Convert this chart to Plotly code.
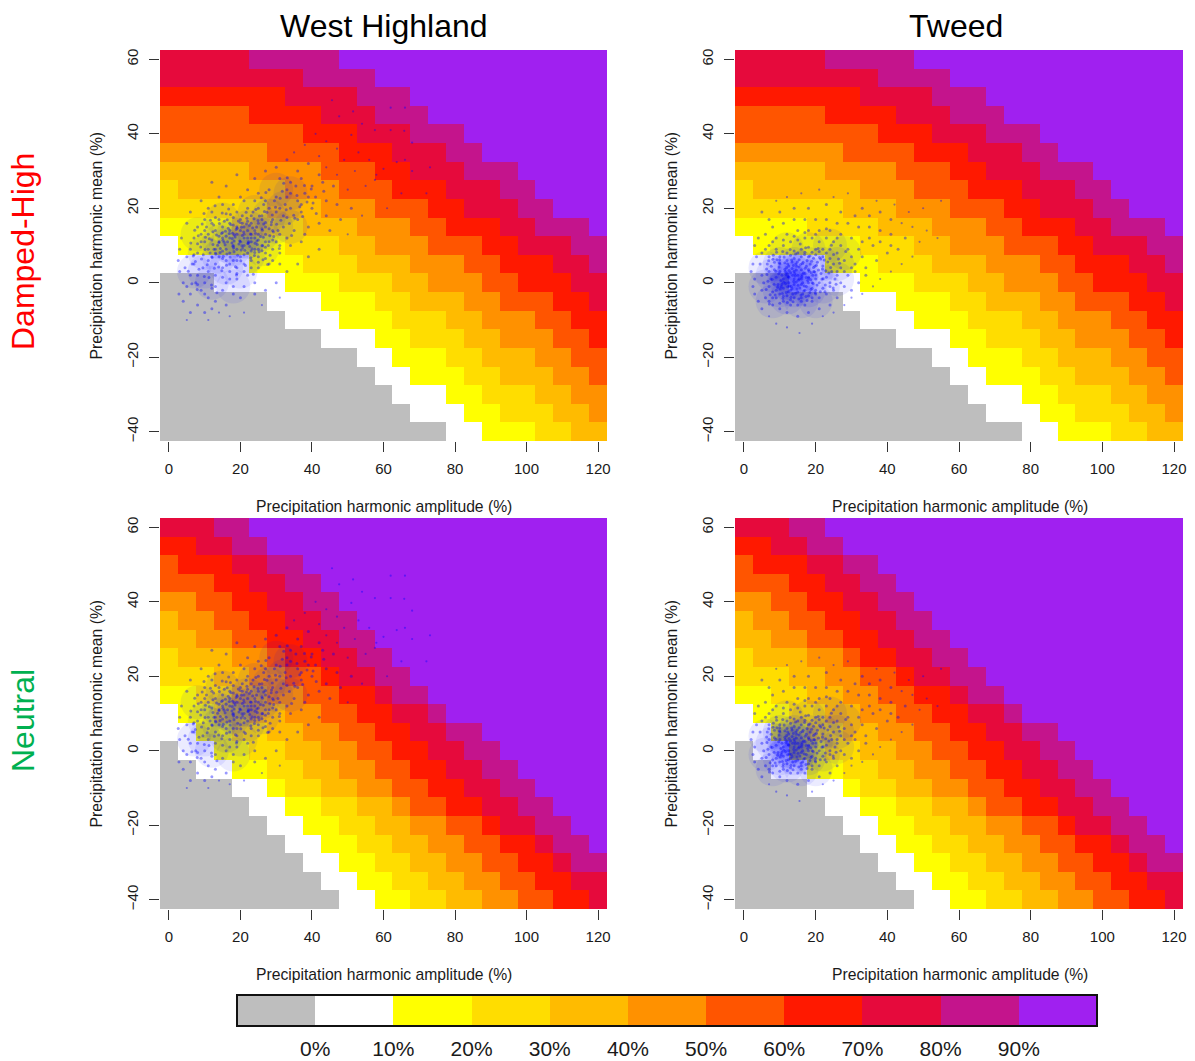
import plotly.graph_objects as go

W, H = 1195, 1061

amplitude = list(range(0, 121, 5))
mean_levels = list(range(60, -41, -5))
class_colors = ["#BEBEBE", "#FFFFFF", "#FFFF00", "#FFDD00", "#FFBB00", "#FF9100",
                "#FF5500", "#FF1900", "#E60A3C", "#C4148C", "#A020F0"]
legend_labels = ["0%", "10%", "20%", "30%", "40%", "50%", "60%", "70%", "80%", "90%"]

# each row (mean 60 .. -40): column index where classes 0..9 end; class 10 fills the rest
damped_ends = [
    [0,0,0,0,0,0,0,0,5,10],[0,0,0,0,0,0,0,0,8,12],[0,0,0,0,0,0,0,7,11,14],
    [0,0,0,0,0,0,5,9,12,15],[0,0,0,0,0,0,8,11,14,17],[0,0,0,0,0,6,10,13,16,18],
    [0,0,0,0,5,9,12,14,17,20],[0,0,0,1,7,10,13,16,19,21],[0,0,0,6,9,12,15,17,20,22],
    [0,0,4,8,11,14,16,19,21,24],[0,1,7,10,12,15,18,20,23,25],[0,5,8,11,14,17,19,22,24,25],
    [3,7,10,13,15,18,20,23,25,25],[6,9,12,14,17,19,22,24,25,25],[7,10,13,16,18,21,23,25,25,25],
    [9,12,14,17,19,22,24,25,25,25],[11,13,16,18,21,23,25,25,25,25],[12,14,17,19,22,24,25,25,25,25],
    [13,16,18,21,23,25,25,25,25,25],[14,17,19,22,24,25,25,25,25,25],[16,18,21,23,25,25,25,25,25,25],
]
neutral_ends = [
    [0,0,0,0,0,0,0,0,3,5],[0,0,0,0,0,0,0,2,4,6],[0,0,0,0,0,0,1,4,6,8],
    [0,0,0,0,0,0,3,5,7,9],[0,0,0,0,0,2,4,6,8,10],[0,0,0,0,1,3,5,7,9,11],
    [0,0,0,0,2,4,6,8,10,12],[0,0,0,1,4,6,7,9,11,13],[0,0,0,3,5,7,9,10,12,14],
    [0,0,2,4,6,8,10,12,13,15],[0,1,3,5,7,9,11,13,15,16],[0,2,4,6,8,10,12,14,16,18],
    [1,3,5,7,9,11,13,15,17,19],[2,4,6,8,10,12,14,16,18,20],[4,6,7,9,11,13,15,17,19,21],
    [5,7,9,11,13,14,16,18,20,22],[6,8,10,12,14,16,18,19,21,23],[7,9,11,13,15,17,19,21,22,24],
    [8,10,12,14,16,18,20,22,23,25],[9,11,13,15,17,19,21,23,25,25],[10,12,14,16,18,20,22,24,25,25],
]

# where each cloud's dots crowd together, amplitude/mean pairs read by eye
west_highland_dense = [
14,7,18,9,22,11,26,13,18,13,22,15,14,11,26,9,30,15,22,7,10,8,16,4,20,3,10,3,28,18,32,20,24,19,34,24,34,15,15,17,8,13,12,0,18,-1,7,3,30,25,20,11,24,13,16,10,
]
tweed_dense = [
8,2,12,2,16,2,20,2,10,-2,14,-2,18,-2,22,-1,10,5,14,5,18,5,22,5,12,0,16,0,14,3,16,4,12,-4,16,-5,6,-1,6,4,26,1,26,5,12,9,18,9,24,10,28,8,20,-5,8,-5,13,1,15,-1,11,3,
]
# sparse outliers of each cloud, amplitude/mean pairs read by eye: drawn as tiny dots
west_highland_outliers = [
45.6,49,62,47,66,47,62,41,47.6,44.7,51.5,46,54,42.7,57.6,41,65.8,40.8,68,37.6,51,39.7,63.7,32.4,66,33,73,31,68,30,60,30.6,65,24,72,24,57.6,27.6,61,20,
44,38,41,40,47,36,53,35,38,37,35,35,42,34,49,33,56,33,44,31,58,29,52,30,47,29,55,26,50,25,54,18,50,13,5,-10,11,-10,14,-8,17,-9,21,-8,26,-6,31,-4,
]
tweed_outliers = [
55,22,50,20,46,19,42,21,37,22,29,24,25,23,21,25,16,24,12,23,9,22,54,12,49,11,51,14,47,15,44,16,47,7,44,5,41,3,38,1,36,-1,33,-3,30,-4,28,-6,25,-8,22,-9,19,-11,15.5,-13.5,12,-12,9,-11,7,-9,
]
# body of each cloud, amplitude/mean pairs read by eye
west_highland_points = [
33,33,39,32,30,31,36,30,42,29,46,26,27,30,24,28,19,29,12,27,16,26,22,25,31,28,34,27,37,28,40,26,43,27,33,25,28,25,25,24,20,23,14,23,9,22,11,20,6,19,5,16,3.5,12,3,9,2.6,6,3,3,4,0,2.8,-3,4,-5,6,-8,8,-6,5,-1,
38,24,41,23,44,22,47,21,51,20,48,17,44,18,40,20,36,22,33,23,30,23,27,22,24,22,21,22,18,21,15,21,12,19,34,20,37,19,31,20,42,16,45,14,39,15,36,17,33,17.5,30,19,28,20,25,20,22,20,19,19,16,18.5,13,17.5,10,17,8,15,7,12,6,9,5,7,4.5,4,6,2,7.5,0,9,-2,11,-4,13,-5,16,-6,12,-7,10,-8,18,-3,20,-4,24,-3,27,-2,30,0,
33,3,36,5,39,7,42,9,37,11,34,10,31,8,28,5,25,4,22,2,19,1,16,0,13,-1,10,0,8,2,7,5,8,8,9,11,10,14,12,16,14,17,17,16,20,17,23,18,26,18,29,17,32,15,35,14,38,13,31,13,29,14,27,15,25,16,23,16,21,15,19,15,17,14,15,15,13,14,11,13,10,11,11,9,12,7,13,5,15,4,17,3,19,4,21,5,23,6,25,7,27,8,29,9,31,10,33,12,30,11,
28,11,26,10,24,9,22,8,20,7,18,6,16,6,14,7,13,9,14,11,15,12,17,12,19,13,21,13,23,13,25,13,27,13,28,14.5,26,14.5,24,14,22,12,20,11,18,10,16,9,15,8.5,17,8,19,9,21,10,23,11,25,11.5,27,11,24,12,22,14,20,14,18,15.5,16,12.5,14,12.5,12,11.5,11.5,8,13,8,15,6.5,17,5,19,6,21,7.5,23,8.5,25,9,27,9.5,29,11.5,
30.5,14,32,18,34,24,35.5,26,37,21,39,23,32.5,21,29.5,22,26.5,21,23.5,19,20.5,18,18,17.5,15.5,16.5,12.5,15.5,10.5,15,9,13,8,10.5,7,7.5,6.5,5,9.5,4,11,3,13,2,15,1.5,17,1,19,2.5,21,3,23,4,25,5.5,27,6.5,29,6,31,5,24,0,21,-1,18,-1,15,-2,12,-1.5,10,-3,8,-0.5,6,-3,
18.5,12.3,20.5,12.7,22.5,15.4,24.5,15,26.5,15.8,22.3,11,19.8,11.2,17.6,10.7,15.7,10.2,13.6,10.1,14.4,9.2,16.2,7.7,18.2,8.3,20.2,8.8,22.6,9.7,24.7,10.3,26.4,12.2,28.2,12.6,24.2,13.3,20.5,16,17.8,13.3,15.8,13.8,13.3,12.8,12.3,10.3,16.4,11,18.2,11.2,20.4,9.9,22.1,10.5,24,8.1,26,8.6,27.8,10,28.6,15.6,26,17,23.8,17.2,21.8,17.3,19.4,16.6,17.3,15.6,15,13.5,21,12,23,12,25.6,12.4,27,16.2,22,16.5,18.8,14.3,16.6,14.6,14,10.8,12.6,9,11,6,9.6,7.5,
24.3,19.7,9.1,6.4,31.7,24.6,14.8,3.2,20.9,13.6,7.2,14.1,27.4,18.9,11.6,16.8,35.2,17.3,17.1,6.9,23.2,9.1,12.9,20.7,29.3,12.4,8.4,3.6,38.6,21.7,19.6,10.4,25.8,22.8,15.2,7.1,33.7,15.9,10.2,12.2,21.4,4.6,28.9,18.2,16.7,19.8,6.1,10.7,41.2,18.6,13.4,-2.7,26.3,6.2,18.9,2.1,32.1,26.7,22.8,13.1,9.8,18.6,35.8,23.4,14.1,15.9,24.9,16.7,7.9,-1.8,19.2,7.4,30.1,15.7,11.2,1.4,27.1,24.2,16.1,4.7,37.4,17.8,21.6,18.9,12.1,6.8,34.3,12.7,23.6,2.3,8.9,9.6,29.8,20.3,17.9,9.8,25.2,8.3,5.4,3.1,31.3,16.8,14.9,18.7,20.1,5.9,39.8,25.2,
10.7,4.8,26.7,19.1,18.3,12.9,6.8,7.2,32.8,19.6,15.4,10.9,22.9,6.7,12.3,13.7,28.3,7.4,36.6,20.4,9.3,15.8,19.9,16.2,24.6,11.2,13.9,4.2,30.9,9.2,17.2,18.3,43.3,24.6,7.4,5.7,21.2,8.7,26.1,14.1,11.9,-0.6,16.9,13.2,34.9,18.1,23.4,14.7,8.2,12.6,29.2,13.6,18.6,4.3,14.3,8.1,25.3,17.9,40.3,21.4,20.7,9.3,12.7,3.9,27.6,4.9,10.1,8.9,33.1,28.2,16.3,16.9,22.2,10.7,6.4,-0.3,31.1,22.7,19.1,14.6,15.1,11.4,24.1,10.6,9.9,1.7,37.9,26.1,13.1,7.7,28.7,16.3,21.7,15.8,17.7,11.9,11.3,11.8,26.2,9.9,14.7,13.2,20.3,14.9,23.9,7.3,18.1,9.4,
]
tweed_points = [
33,20,27,19,31,18,35,18,38,19,41,17,23,21,18,20,14,20,10,19,7,17,5,19,45,12,41,13,38,14,35,15,32,15,29,16,26,16,23,17,20,17,17,17,14,17,11,16,8,15,6,13,4,12,3,10,3.5,7,2.5,5,2,3,3,1,2.5,-1,3,-3,4,-5,5,-7,10,-7,8,-6,12,-8,15,-9,18,-8,21,-7,24,-6,26,-4,28,-1,31,3,34,4,37,6,40,8,43,9,
36,10,33,11,30,12,27,13,24,14,21,14,18,14,15,14,12,13,9,12,7,10,5,8,4.5,5,5,2,5.5,0,5,-2,6,-4,7,-5,9,-4,11,-5,13,-6,15,-6,17,-6,19,-5,21,-4,23,-3,25,-2,27,0,29,2,31,5,33,7,29,9,27,10,25,11,23,12,21,11,19,12,17,12,15,11.5,13,11,11,10,9,9,7,7,6.5,5,7,3,7.5,1,7,-1,8,-2.5,10,-3,12,-3.5,14,-4,16,-4,18,-3.5,20,-3,22,-1.5,24,0,26,2,27,4,28,6,26,8,24,9,
22,9,20,9,18,9.5,16,9,14,8.5,12,8,10,7,8.5,5.5,8.5,3.5,9,1.5,9.5,-0.5,11,-1.5,13,-2,15,-2.5,17,-2,19,-1.5,21,0,23,1.5,24.5,3,25,5,24,6.5,22,7,20,7.5,18,7,16,7,14,6.5,12,6,10,5,10,3,11,1,12.5,0,14,-0.5,16,-0.5,18,0,20,1,21.5,2.5,22,4.5,20.5,5.5,18.5,5,16.5,5.5,14.5,5,12.5,4.5,11.5,3,12.5,1.5,14,1,16,1,18,1.5,19.5,3,18,3.5,16,3.5,14,3,15,2,17,2.5,13,2.7,
9.2,6.2,7.6,4.4,6.4,2.2,6.2,-1.8,8.4,-0.4,10.4,-1,11.8,-2.6,13.6,-3,15.6,-1.4,17.4,-1,19,0,20.4,-0.6,21.8,1,22.8,3.2,23.4,5.6,21.4,6.4,19.4,6.6,17.6,6,15.4,6.2,13.4,5.6,11.4,5.4,9.8,4.2,10.6,2,11.6,-0.2,13.2,-1,14.6,0.2,16.4,0,18.6,0.8,19.2,2,20.8,3.4,19.8,4.4,17.4,4.4,15.4,4.2,13.4,3.8,12,2.6,13.6,2,15.4,1,17.4,1.4,16.6,2.6,14.6,3.4,12.2,5,10,6.2,8.2,7.4,10.8,8.4,13,7.4,15,8,17,8.2,19,8.2,21,8.4,23,8,25,7.6,26.4,6.4,26,3,25.4,1,24,-1,22.6,-2.4,20,-2,18.4,-2.6,16.4,-3,14.4,-2.8,12.4,-2.4,11,-3.6,9,-2,8,-4,10,-5.5,13,-4.6,16,-5,19,-4,30,7,32,9,35,12,38,11,41,10,34,2,32,0,30,-2,28,3,30,4,26,12,23,14.5,20,13,17,13.5,14,12.5,11,11.5,8,11,6,9,
12.3,1.7,18.7,-1.8,8.9,3.1,15.8,4.9,21.3,-2.4,10.9,-4.2,16.9,7.6,6.7,0.4,13.7,-5.1,19.7,2.9,24.2,4.1,11.2,6.9,17.3,-3.7,14.3,1.8,9.4,-1.2,22.4,6.1,7.3,-3.2,15.1,-0.7,20.2,4.7,12.9,8.9,18.2,3.1,25.7,-0.4,10.3,0.6,16.2,2.2,13.1,-3.9,23.7,2.6,8.1,6.3,19.3,-0.2,14.9,5.6,11.9,4.1,17.8,0.6,28.4,8.4,6.3,3.7,15.7,10.4,21.1,6.8,12.7,-0.9,9.7,2.4,18.9,5.8,16.7,-2.2,13.3,6.1,24.9,-1.4,10.1,-1.7,20.7,9.2,14.2,2.4,7.9,0.9,17.1,3.9,22.1,1.1,11.4,3.6,15.3,-4.4,26.7,5.2,12.1,-5.3,18.4,7.2,9.1,8.2,16.1,1.6,13.9,0.3,19.9,-2.7,6.9,5.9,21.9,3.7,14.7,4.4,10.7,-2.9,17.6,-4.8,24.4,10.1,12.6,3.3,15.9,-3.3,8.7,-3.3,20.1,2.1,11.1,0.1,16.3,5.1,13.4,-1.6,18.1,1.2,22.7,-0.6,9.9,5.4,14.4,7.7,7.1,-5.7,17.2,9.4,12.2,-1.1,19.4,4.1,15.2,0.7,10.6,-0.4,16.8,-0.9,13.8,4.6,18.8,2.7,11.7,2.2,14.8,-1.7,
]

panels = [
    {"ends": damped_ends, "points": west_highland_points, "outliers": west_highland_outliers, "dense": west_highland_dense, "x": (160, 607), "y": (50, 441), "suffix": ""},
    {"ends": damped_ends, "points": tweed_points, "outliers": tweed_outliers, "dense": tweed_dense, "x": (735, 1183), "y": (50, 441), "suffix": "2"},
    {"ends": neutral_ends, "points": west_highland_points, "outliers": west_highland_outliers, "dense": west_highland_dense, "x": (160, 607), "y": (518, 909), "suffix": "3"},
    {"ends": neutral_ends, "points": tweed_points, "outliers": tweed_outliers, "dense": tweed_dense, "x": (735, 1183), "y": (518, 909), "suffix": "4"},
]


def rows_to_classes(ends):
    z = []
    for row in ends:
        cells = []
        for col in range(len(amplitude)):
            cls = 10
            for c, e in enumerate(row):
                if col < e:
                    cls = c
                    break
            cells.append(cls)
        z.append(cells)
    return z


stepped = []
for i, c in enumerate(class_colors):
    stepped += [[i / 11, c], [(i + 1) / 11, c]]

FONT = "Liberation Sans, Arial, sans-serif"
TEXT = "#1a1a1a"
fig = go.Figure()
layout = {}
annotations = []


def px_x(p):
    return p / W


def px_y(p):
    return 1 - p / H


for p in panels:
    s = p["suffix"]
    fig.add_trace(go.Heatmap(x=amplitude, y=mean_levels, z=rows_to_classes(p["ends"]),
                             colorscale=stepped, zmin=-0.5, zmax=10.5, showscale=False,
                             xaxis="x" + s, yaxis="y" + s, hoverinfo="skip"))
    fig.add_trace(go.Scatter(x=p["dense"][::2], y=p["dense"][1::2], mode="markers",
                             marker=dict(color="#0000FF", size=34, opacity=0.08, line=dict(width=0)),
                             xaxis="x" + s, yaxis="y" + s, showlegend=False, hoverinfo="skip"))
    fig.add_trace(go.Scatter(x=p["points"][::2], y=p["points"][1::2], mode="markers",
                             marker=dict(color="#0000FF", size=3, opacity=0.4, line=dict(width=0)),
                             xaxis="x" + s, yaxis="y" + s, showlegend=False, hoverinfo="skip"))
    fig.add_trace(go.Scatter(x=p["outliers"][::2], y=p["outliers"][1::2], mode="markers",
                             marker=dict(color="#0000FF", size=2.2, opacity=0.4, line=dict(width=0)),
                             xaxis="x" + s, yaxis="y" + s, showlegend=False, hoverinfo="skip"))
    layout["xaxis" + s] = dict(domain=[px_x(p["x"][0]), px_x(p["x"][1])], range=[-2.5, 122.5],
                               anchor="y" + s, tickmode="array", tickvals=[0, 20, 40, 60, 80, 100, 120],
                               ticks="outside", ticklen=10, tickwidth=1, tickcolor="#333333",
                               showgrid=False, zeroline=False, showline=False, automargin=False,
                               ticklabelstandoff=4, tickfont=dict(size=15, color=TEXT, family=FONT))
    layout["yaxis" + s] = dict(domain=[px_y(p["y"][1]), px_y(p["y"][0])], range=[-42.5, 62.5],
                               anchor="x" + s, tickmode="array", tickvals=[-40, -20, 0, 20, 40, 60],
                               ticks="outside", ticklen=10, tickwidth=1, tickcolor="#333333",
                               showgrid=False, zeroline=False, showline=False, tickangle=-90, automargin=False,
                               ticklabelstandoff=5, tickfont=dict(size=15, color=TEXT, family=FONT))
    annotations.append(dict(text="Precipitation harmonic amplitude (%)", xref="paper", yref="paper",
                            x=px_x((p["x"][0] + p["x"][1]) / 2 + 0.5), y=px_y(p["y"][1] + 65.5),
                            showarrow=False, xanchor="center", yanchor="middle",
                            font=dict(size=15.7, color=TEXT, family=FONT)))
    annotations.append(dict(text="Precipitation harmonic mean (%)", xref="paper", yref="paper",
                            x=px_x(p["x"][0] - 64), y=px_y((p["y"][0] + p["y"][1]) / 2),
                            showarrow=False, xanchor="center", yanchor="middle", textangle=-90,
                            font=dict(size=15.7, color=TEXT, family=FONT)))

# colour key
fig.add_trace(go.Heatmap(x=list(range(11)), y=[0], z=[list(range(11))], colorscale=stepped,
                         zmin=-0.5, zmax=10.5, showscale=False, xaxis="x5", yaxis="y5", hoverinfo="skip"))
layout["xaxis5"] = dict(domain=[px_x(237), px_x(1097)], range=[-0.5, 10.5], anchor="y5", tickmode="array",
                        tickvals=[i + 0.5 for i in range(10)], ticktext=legend_labels, ticks="",
                        showgrid=False, zeroline=False, showline=False, automargin=False, ticklabelstandoff=8,
                        tickfont=dict(size=21, color=TEXT, family=FONT))
layout["yaxis5"] = dict(domain=[px_y(1026), px_y(995)], range=[-0.5, 0.5], anchor="x5", visible=False, automargin=False)

for text, x, y, size, color, angle in [
    ("West Highland", 383.5, 26, 32, "#000000", 0),
    ("Tweed", 955.5, 26, 32, "#000000", 0),
    ("Damped-High", 23, 252, 32, "#FF0000", -90),
    ("Neutral", 23, 721, 32, "#00B050", -90),
]:
    annotations.append(dict(text=text, xref="paper", yref="paper", x=px_x(x), y=px_y(y), showarrow=False,
                            xanchor="center", yanchor="middle", textangle=angle,
                            font=dict(size=size, color=color, family=FONT)))

fig.update_layout(width=W, height=H, margin=dict(l=0, r=0, t=0, b=0, autoexpand=False), paper_bgcolor="white",
                  plot_bgcolor="white", showlegend=False, annotations=annotations,
                  shapes=[dict(type="rect", xref="paper", yref="paper", x0=px_x(237), x1=px_x(1097),
                               y0=px_y(1026), y1=px_y(995), line=dict(color="#111111", width=2))],
                  **layout)

fig.write_html("out.html", config={"displayModeBar": False},
               post_script="document.body.style.margin='0';document.documentElement.style.overflow='hidden';")
